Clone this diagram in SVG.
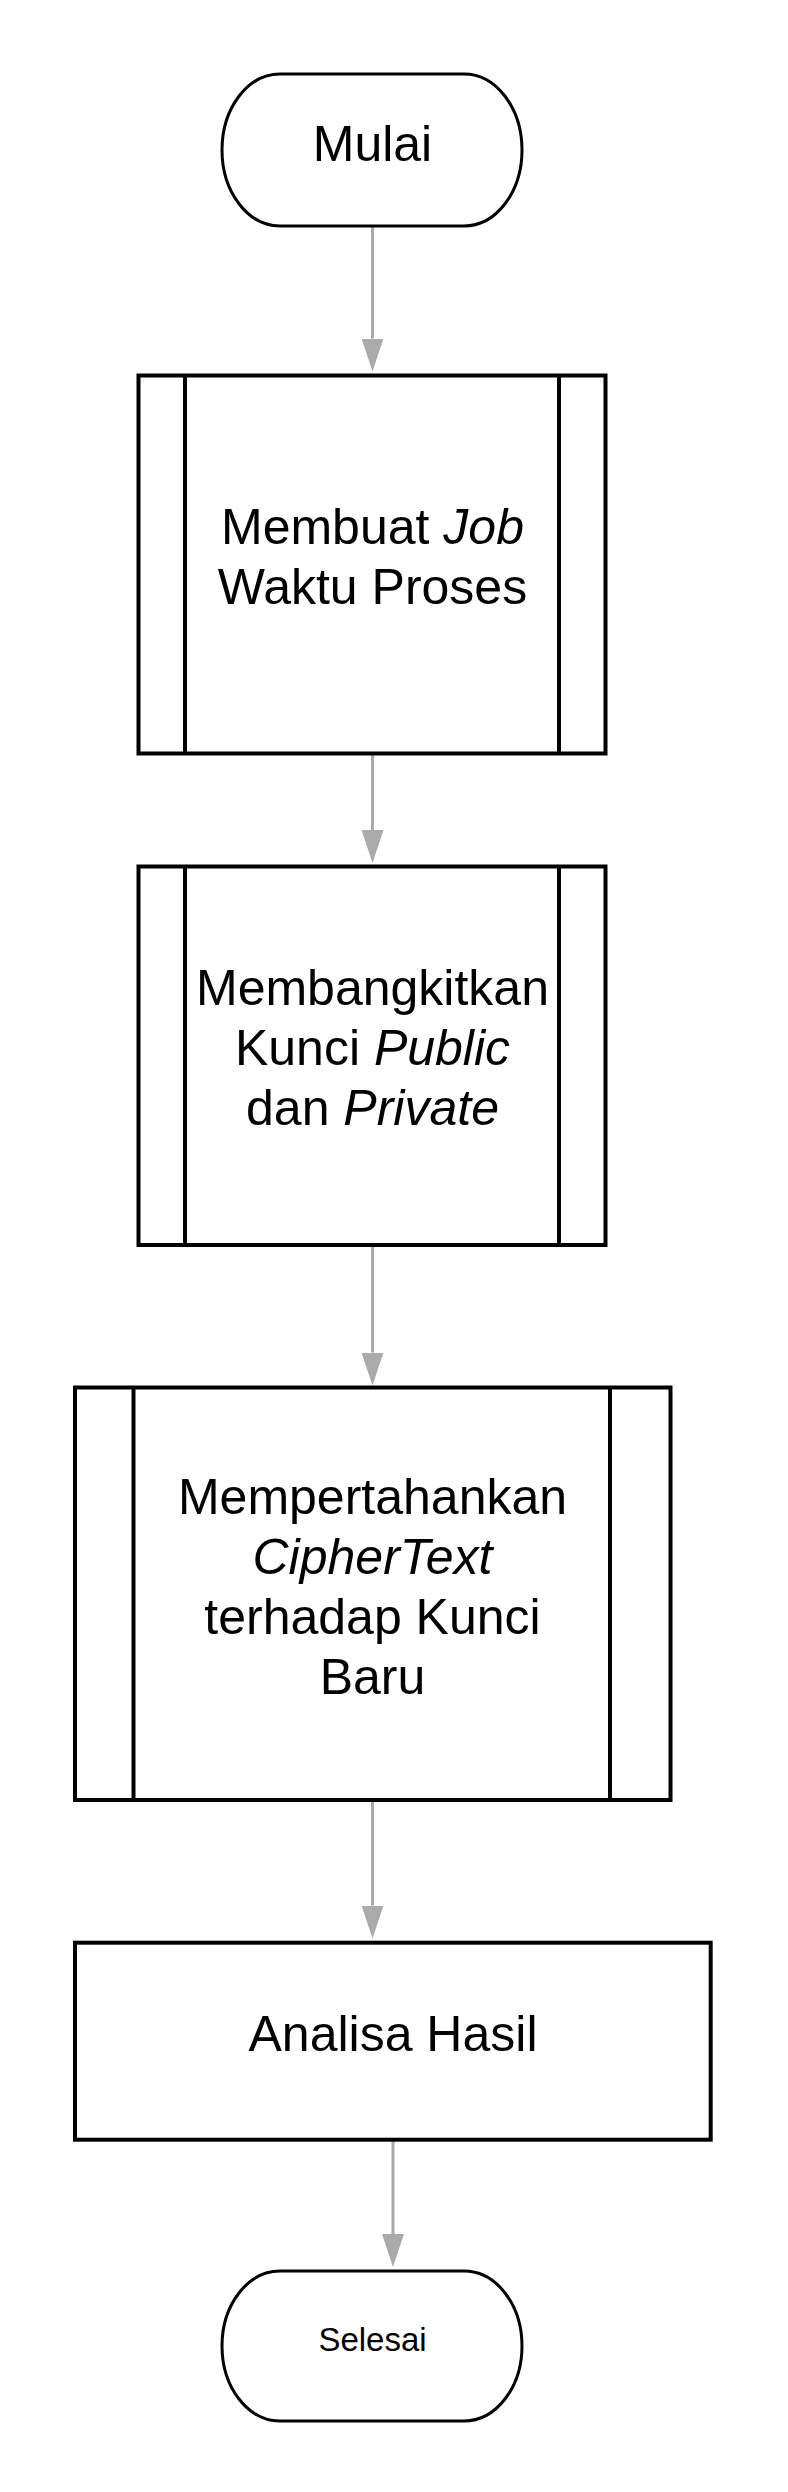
<svg xmlns="http://www.w3.org/2000/svg" width="788" height="2492" viewBox="0 0 788 2492">
  <style>
    .term { fill: #ffffff; stroke: #000000; stroke-width: 3; }
    .box { fill: #ffffff; stroke: #000000; stroke-width: 4; }
    .bar { fill: none; stroke: #000000; stroke-width: 4; }
    .lbl { font-family: "Liberation Sans", Arial, sans-serif; font-size: 50px; fill: #000000; text-anchor: middle; }
    .sm { font-size: 33px; }
    .it { font-style: italic; }
    .conn { fill: none; stroke: #AAAAAA; stroke-width: 3; marker-end: url(#arrow); }
  </style>
  <defs>
    <marker id="arrow" viewBox="0 0 33 22" refX="0" refY="11" markerWidth="33" markerHeight="22" markerUnits="userSpaceOnUse" orient="auto">
      <path d="M0,0 L33,11 L0,22 Z" fill="#AAAAAA"/>
    </marker>
  </defs>
  <rect x="0" y="0" width="788" height="2492" fill="#ffffff"/>

  <g id="connectors">
    <line class="conn" x1="372.5" y1="227" x2="372.5" y2="338.5"/>
    <line class="conn" x1="372.5" y1="755" x2="372.5" y2="830"/>
    <line class="conn" x1="372.5" y1="1247" x2="372.5" y2="1352.5"/>
    <line class="conn" x1="372.5" y1="1801" x2="372.5" y2="1905.5"/>
    <line class="conn" x1="393" y1="2141" x2="393" y2="2234"/>
  </g>

  <g id="mulai">
    <path class="term" d="M280,74 H464 A58,76 0 0 1 464,226 H280 A58,76 0 0 1 280,74 Z"/>
    <text class="lbl" x="372.5" y="160.7">Mulai</text>
  </g>

  <g id="membuat-job">
    <rect class="box" x="138.5" y="375.5" width="467" height="378"/>
    <line class="bar" x1="185" y1="375.5" x2="185" y2="753.5"/>
    <line class="bar" x1="559" y1="375.5" x2="559" y2="753.5"/>
    <text class="lbl" x="372.5" y="543.5">Membuat <tspan class="it">Job</tspan></text>
    <text class="lbl" x="372.5" y="604">Waktu Proses</text>
  </g>

  <g id="membangkitkan-kunci">
    <rect class="box" x="138.5" y="866.5" width="467" height="378.5"/>
    <line class="bar" x1="185" y1="866.5" x2="185" y2="1245"/>
    <line class="bar" x1="559" y1="866.5" x2="559" y2="1245"/>
    <text class="lbl" x="372.5" y="1005">Membangkitkan</text>
    <text class="lbl" x="372.5" y="1065">Kunci <tspan class="it">Public</tspan></text>
    <text class="lbl" x="372.5" y="1125">dan <tspan class="it">Private</tspan></text>
  </g>

  <g id="mempertahankan-ciphertext">
    <rect class="box" x="75" y="1387.5" width="595.5" height="412.5"/>
    <line class="bar" x1="133.5" y1="1387.5" x2="133.5" y2="1800"/>
    <line class="bar" x1="610" y1="1387.5" x2="610" y2="1800"/>
    <text class="lbl" x="372.5" y="1514">Mempertahankan</text>
    <text class="lbl it" x="372.5" y="1574">CipherText</text>
    <text class="lbl" x="372.5" y="1634">terhadap Kunci</text>
    <text class="lbl" x="372.5" y="1694">Baru</text>
  </g>

  <g id="analisa-hasil">
    <rect class="box" x="75" y="1942.7" width="635.7" height="197"/>
    <text class="lbl" x="393" y="2050.5">Analisa Hasil</text>
  </g>

  <g id="selesai">
    <path class="term" d="M280,2271 H464 A58,75 0 0 1 464,2421 H280 A58,75 0 0 1 280,2271 Z"/>
    <text class="lbl sm" x="372.5" y="2351">Selesai</text>
  </g>
</svg>
